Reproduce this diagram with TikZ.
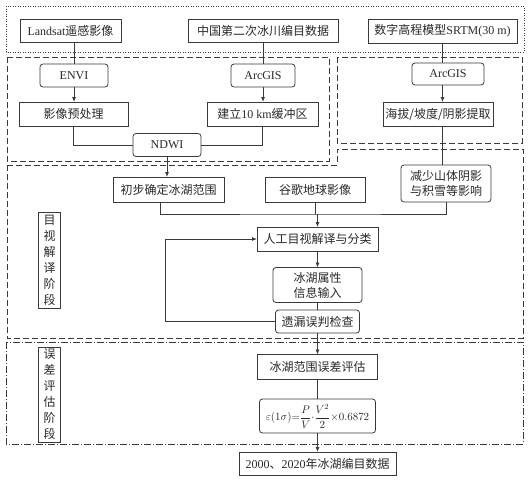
\documentclass[tikz,border=0pt]{standalone}
\usepackage{fontspec}
\usepackage{amsmath}
\setmainfont{Liberation Serif}
\newfontfamily\cjk{Noto Sans CJK SC}
\usetikzlibrary{arrows.meta}
\definecolor{ln}{HTML}{3A3A3A}
\definecolor{tx}{HTML}{2A2A2A}
\begin{document}
\begin{tikzpicture}[x=1pt,y=-1pt,
  every node/.style={inner sep=0pt,outer sep=0pt},
  bx/.style={draw=ln,line width=0.8pt,text=tx,align=center,font=\cjk\fontsize{12}{15}\selectfont},
  rbx/.style={bx,rounded corners=3pt},
  lbl/.style={bx,font=\cjk\fontsize{12}{16}\selectfont,minimum width=22pt},
  con/.style={draw=ln,line width=0.8pt},
  arr/.style={con,-{Latex[length=5pt,width=4pt]}},
  dotbox/.style={draw=ln,line width=0.8pt,dash pattern=on 1pt off 1.5pt},
  dashbox/.style={draw=ln,line width=0.8pt,dash pattern=on 6pt off 3pt},
  ddbox/.style={draw=ln,line width=0.8pt,dash pattern=on 7pt off 2pt on 1pt off 2pt}]
\useasboundingbox[fill=white] (0,0) rectangle (532,483);

% group frames
\draw[dotbox] (6,6) rectangle (524,52);
\draw[dashbox] (7,57) rectangle (329,161);
\draw[dashbox] (337,57) rectangle (522,143);
\draw[dashbox] (7,165) -- (337,165) -- (337,149) -- (523,149) -- (523,338) -- (7,338) -- cycle;
\draw[ddbox] (6,342) rectangle (523,444);

% data sources
\node[bx,minimum width=101pt,minimum height=23pt] (landsat) at (70.5,30.5) {{\rmfamily Landsat}遥感影像};
\node[bx,minimum width=150pt,minimum height=23pt] (cnglac) at (263,30.5) {中国第二次冰川编目数据};
\node[bx,minimum width=149pt,minimum height=24pt] (srtm) at (442.5,31) {数字高程模型{\rmfamily SRTM(30 m)}};

% processing
\node[rbx,minimum width=68pt,minimum height=23pt] (envi) at (74,75.5) {\rmfamily ENVI};
\node[rbx,minimum width=64pt,minimum height=23pt] (arc1) at (263,75.5) {\rmfamily ArcGIS};
\node[rbx,minimum width=72pt,minimum height=22pt] (arc2) at (448,74) {\rmfamily ArcGIS};
\node[bx,minimum width=109pt,minimum height=24pt] (yxycl) at (73.5,114) {影像预处理};
\node[bx,minimum width=111pt,minimum height=24pt] (jianli) at (262.5,114) {建立{\rmfamily 10 km}缓冲区};
\node[bx,minimum width=110pt,minimum height=24pt] (haiba) at (438,114) {海拔/坡度/阴影提取};
\node[rbx,minimum width=68pt,minimum height=23pt] (ndwi) at (167,145) {\rmfamily NDWI};

% visual interpretation
\node[bx,minimum width=111pt,minimum height=25pt] (chubu) at (168.5,189.5) {初步确定冰湖范围};
\node[bx,minimum width=100pt,minimum height=25pt] (guge) at (315,189.5) {谷歌地球影像};
\node[rbx,minimum width=90pt,minimum height=37pt] (jianshao) at (446,183.5) {减少山体阴影\\与积雪等影响};
\node[bx,minimum width=121pt,minimum height=24pt] (rengong) at (317.5,239) {人工目视解译与分类};
\node[rbx,minimum width=89pt,minimum height=35pt] (shuxing) at (317.5,285) {冰湖属性\\信息输入};
\node[rbx,minimum width=84pt,minimum height=23pt] (yilou) at (317.5,321.5) {遗漏误判检查};
\node[lbl,minimum height=96pt] (lab1) at (49.5,260) {目\\视\\解\\译\\阶\\段};

% error assessment
\node[bx,minimum width=120pt,minimum height=25pt] (errpg) at (317.5,367) {冰湖范围误差评估};
\node[rbx,minimum width=116pt,minimum height=34pt] (formula) at (317.5,416)
  {\rmfamily\fontsize{11}{13}\selectfont $\varepsilon(1\sigma){=}\dfrac{P}{V}{\cdot}\dfrac{V^{2}}{2}{\times}0.6872$};
\node[lbl,minimum height=95pt] (lab2) at (49.5,394.5) {误\\差\\评\\估\\阶\\段};
\node[bx,minimum width=157pt,minimum height=23pt] (final) at (317.5,463.5) {{\rmfamily 2000}、{\rmfamily 2020}年冰湖编目数据};

% connectors
\draw[con] (landsat.south -| envi) -- (envi.north);
\draw[arr] (envi.south) -- (yxycl.north -| envi);
\draw[con] (cnglac.south) -- (arc1.north);
\draw[arr] (arc1.south) -- (jianli.north -| arc1);
\draw[con] (srtm.south) -- (arc2.north -| srtm);
\draw[arr] (arc2.south -| srtm) -- (haiba.north -| srtm);
\draw[con] (haiba.south -| srtm) -- (jianshao.north -| srtm);
\draw[con] (yxycl.south) |- (ndwi.west);
\draw[con] (jianli.south) |- (ndwi.east);
\draw[arr] (ndwi.south) -- (chubu.north -| ndwi);
\coordinate (mj) at (317.5,214);
\draw[con] ([xshift=-8pt]chubu.south) |- (mj) -| (jianshao.south);
\draw[con] (guge.south) -- (guge.south |- mj);
\draw[arr] (mj) -- (rengong.north);
\draw[arr] (rengong.south) -- (shuxing.north);
\draw[con] (shuxing.south) -- (yilou.north);
\coordinate (fb) at (165.5,239);
\draw[arr] (yilou.west) -| (fb) -- (rengong.west);
\draw[arr] (yilou.south) -- (errpg.north);
\draw[con] (errpg.south) -- (formula.north);
\draw[arr] (formula.south) -- (final.north);
\end{tikzpicture}
\end{document}
